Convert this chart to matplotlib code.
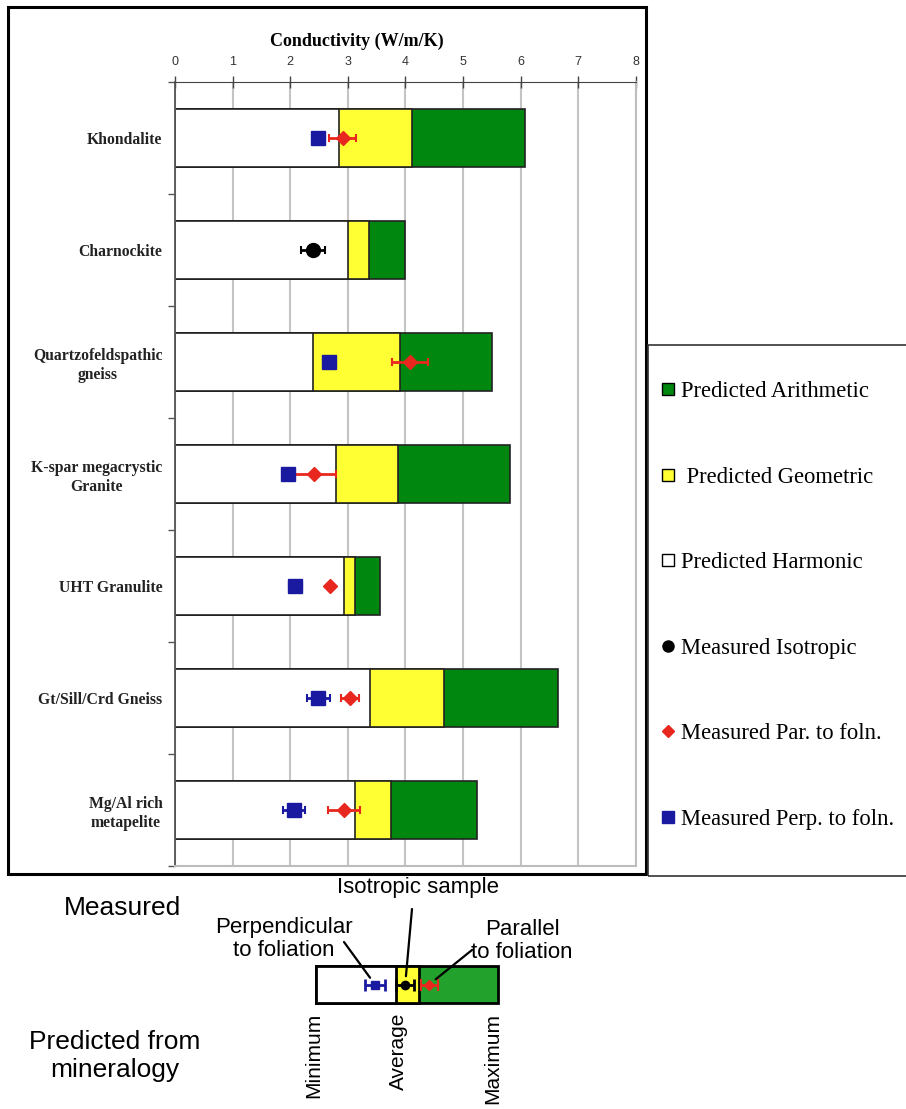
import numpy as np
import matplotlib
matplotlib.use('Agg')
import matplotlib.pyplot as plt
from matplotlib.lines import Line2D
from matplotlib.patches import Rectangle

plt.rcParams.update({
    'font.family': 'Liberation Serif',
    'figure.facecolor': 'white',
    'axes.facecolor': 'white',
})

ANCHO, ALTO = 906, 1109

# --- datos por roca (W/m/K) ---
ROCAS = ['Khondalite', 'Charnockite', 'Quartzofeldspathic\ngneiss',
         'K-spar megacrystic\nGranite', 'UHT Granulite',
         'Gt/Sill/Crd Gneiss', 'Mg/Al rich\nmetapelite']
ARMONICA   = [2.84, 3.01, 2.39, 2.79, 2.94, 3.39, 3.12]
GEOMETRICA = [4.11, 3.37, 3.90, 3.88, 3.12, 4.67, 3.75]
ARITMETICA = [6.07, 3.99, 5.51, 5.81, 3.56, 6.65, 5.25]

nan = np.nan
PERP     = [2.48, nan, 2.67, 1.96, 2.09, 2.49, 2.06]
PERP_ERR = [0.00, nan, 0.07, 0.05, 0.11, 0.20, 0.19]
PAR      = [2.91, nan, 4.08, 2.42, 2.70, 3.04, 2.94]
PAR_ERR  = [0.23, nan, 0.32, 0.37, 0.05, 0.16, 0.28]
ISO      = [nan, 2.39, nan, nan, nan, nan, nan]
ISO_ERR  = [nan, 0.21, nan, nan, nan, nan, nan]

# --- esquema explicativo (unidades arbitrarias) ---
ESQ_ARMONICA, ESQ_GEOMETRICA, ESQ_ARITMETICA = 2.19, 2.84, 5.0
ESQ_PERP, ESQ_PERP_ERR = 1.62, 0.27
ESQ_ISO, ESQ_ISO_ERR = 2.45, 0.24
ESQ_PAR, ESQ_PAR_ERR = 3.11, 0.23

VERDE = '#00870f'
VERDE_ESQ = '#22a22c'
AMARILLO = '#ffff33'
AZUL = '#1a1aa0'
ROJO = '#e8281e'


def px(x, y):
    """Pixel (origen arriba-izquierda) -> fracción de figura."""
    return x / ANCHO, 1 - y / ALTO


fig = plt.figure(figsize=(ANCHO / 100, ALTO / 100), dpi=100)

# ---------------- gráfico principal ----------------
x0, y1 = px(175, 82)
x1, y0 = px(635.7, 866)
ax = fig.add_axes([x0, y0, x1 - x0, y1 - y0])

pos = np.arange(len(ROCAS))
ax.set_xlim(0, 8)
ax.set_ylim(len(ROCAS) - 0.5, -0.5)

for v in range(0, 9):
    ax.axvline(v, color='#c4c4c4', lw=1.5, zorder=0)

kw = dict(height=0.51, edgecolor='#222222', linewidth=1.2, zorder=2)
ax.barh(pos, ARITMETICA, color=VERDE, **kw)
ax.barh(pos, GEOMETRICA, color=AMARILLO, **kw)
ax.barh(pos, ARMONICA, color='white', **kw)

ax.errorbar(PERP, pos, xerr=PERP_ERR, fmt='s', color=AZUL, ms=9.5,
            elinewidth=2, capsize=3, capthick=1.5, zorder=4)
ax.errorbar(PAR, pos, xerr=PAR_ERR, fmt='D', color=ROJO, ms=7.5,
            elinewidth=2, capsize=3, capthick=1.5, zorder=4)
ax.errorbar(ISO, pos, xerr=ISO_ERR, fmt='o', color='black', ms=10,
            elinewidth=2, capsize=3, capthick=1.5, zorder=4)

ax.xaxis.tick_top()
ax.xaxis.set_label_position('top')
ax.set_xticks(range(0, 9))
ax.tick_params(axis='x', direction='inout', length=8, width=1, color='#444444',
               pad=6, labelsize=9, labelcolor='#333333')
for t in ax.get_xticklabels():
    t.set_fontfamily('Liberation Sans')
ax.set_xlabel('Conductivity (W/m/K)', fontsize=13, fontweight='bold')
ax.xaxis.set_label_coords(0.395, 1.046)

ax.set_yticks(pos)
ax.set_yticklabels(ROCAS, fontsize=11.3, fontweight='bold', color='#222222',
                   multialignment='center', linespacing=1.25)
ax.set_yticks(np.arange(-0.5, len(ROCAS)), minor=True)
ax.tick_params(axis='y', which='major', length=0, pad=9)
ax.tick_params(axis='y', which='minor', direction='out', length=5,
               width=1, color='#555555')

ax.spines['top'].set_color('#444444')
ax.spines['left'].set_color('#555555')
ax.spines['left'].set_linewidth(1.3)
for lado in ('right', 'bottom'):
    ax.spines[lado].set_color('#bdbdbd')
    ax.spines[lado].set_linewidth(1.5)

# marco del gráfico
fx, fy = px(8, 874)
fig.add_artist(Rectangle((fx, fy), 638 / ANCHO, 867 / ALTO,
                         transform=fig.transFigure, fill=False,
                         ec='black', lw=2.2))

# ---------------- leyenda ----------------
lx, ly = px(648, 876)
fig.add_artist(Rectangle((lx, ly), 0.3, (876 - 345) / ALTO,
                         transform=fig.transFigure, fill=False,
                         ec='#333333', lw=1.2, clip_on=False))

handles = [
    Line2D([], [], marker='s', ls='none', mfc=VERDE, mec='black', ms=8, mew=1),
    Line2D([], [], marker='s', ls='none', mfc=AMARILLO, mec='black', ms=8, mew=1),
    Line2D([], [], marker='s', ls='none', mfc='white', mec='black', ms=8, mew=1),
    Line2D([], [], marker='o', ls='none', color='black', ms=8),
    Line2D([], [], marker='D', ls='none', color=ROJO, ms=6),
    Line2D([], [], marker='s', ls='none', color=AZUL, ms=8),
]
etiquetas = ['Predicted Arithmetic', ' Predicted Geometric', 'Predicted Harmonic',
             'Measured Isotropic', 'Measured Par. to foln.',
             'Measured Perp. to foln.']
fig.legend(handles, etiquetas, loc='upper left',
           bbox_to_anchor=px(661, 381), frameon=False, fontsize=16.3,
           labelspacing=2.85, handlelength=0.6, handletextpad=0.3,
           borderaxespad=0, borderpad=0)

# ---------------- esquema inferior ----------------
sx0, sy1 = px(316, 966)
sx1, sy0 = px(498, 1003)
ax_s = fig.add_axes([sx0, sy0, sx1 - sx0, sy1 - sy0])
ax_s.set_xlim(0, ESQ_ARITMETICA)
ax_s.set_ylim(0, 1)
ax_s.axis('off')

kw_s = dict(height=1, edgecolor='black', linewidth=2, clip_on=False)
ax_s.barh(0.5, ESQ_ARITMETICA, color=VERDE_ESQ, **kw_s)
ax_s.barh(0.5, ESQ_GEOMETRICA, color=AMARILLO, **kw_s)
ax_s.barh(0.5, ESQ_ARMONICA, color='white', **kw_s)
ax_s.errorbar(ESQ_PERP, 0.5, xerr=ESQ_PERP_ERR, fmt='s', color=AZUL, ms=6,
              elinewidth=2, capsize=4, capthick=2, clip_on=False)
ax_s.errorbar(ESQ_ISO, 0.5, xerr=ESQ_ISO_ERR, fmt='o', color='black', ms=6,
              elinewidth=2, capsize=4, capthick=2, clip_on=False)
ax_s.errorbar(ESQ_PAR, 0.5, xerr=ESQ_PAR_ERR, fmt='D', color=ROJO, ms=5,
              elinewidth=2, capsize=4, capthick=1.5, clip_on=False)

sans = 'Liberation Sans'
fig.text(*px(123, 908), 'Measured', family=sans, fontsize=19,
         ha='center', va='center')
fig.text(*px(115, 1056), 'Predicted from\nmineralogy', family=sans,
         fontsize=19, ha='center', va='center', linespacing=1.2)
fig.text(*px(418, 888), 'Isotropic sample', family=sans, fontsize=16,
         ha='center', va='center')
fig.text(*px(284, 939), 'Perpendicular\nto foliation', family=sans,
         fontsize=16, ha='center', va='center', linespacing=1.1)
fig.text(*px(522, 941), 'Parallel\nto foliation', family=sans,
         fontsize=16, ha='center', va='center', linespacing=1.1)
for xc, txt in [(314, 'Minimum'), (398, 'Average'), (493, 'Maximum')]:
    fig.text(*px(xc, 1013), txt, family=sans, fontsize=15, rotation=90,
             ha='center', va='top')

# líneas guía hacia cada símbolo
flecha = dict(arrowstyle='-', color='black', lw=1.6, shrinkA=0, shrinkB=6)
for xv, origen in [(ESQ_ISO, (412, 909)), (ESQ_PERP, (344, 942)),
                   (ESQ_PAR, (472, 950))]:
    ax_s.annotate('', xy=(xv, 0.5), xycoords='data',
                  xytext=(origen[0], ALTO - origen[1]),
                  textcoords='figure pixels', arrowprops=flecha)

fig.savefig('out.png', dpi=100)
